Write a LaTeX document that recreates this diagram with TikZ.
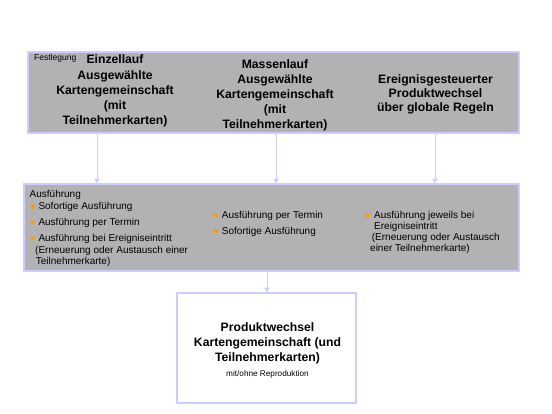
\documentclass[tikz,border=0pt]{standalone}
\usepackage{fontspec}
\setmainfont{Liberation Sans}
\usetikzlibrary{arrows.meta}
\definecolor{lav}{HTML}{CCCCFF}
\definecolor{boxgray}{HTML}{B2B2B2}
\definecolor{bul}{HTML}{FF9900}
\tikzset{
  boxg/.style={draw=lav, line width=1.5pt, fill=boxgray, inner sep=0pt},
  boxw/.style={draw=lav, line width=1.5pt, fill=white, inner sep=0pt},
  ttl/.style={font=\fontsize{12.2}{14}\bfseries\selectfont, anchor=base, inner sep=0pt},
  itm/.style={font=\fontsize{10}{11}\selectfont, anchor=base west, inner sep=0pt},
  small/.style={font=\fontsize{8.5}{9}\selectfont, inner sep=0pt},
  bdot/.style={circle, fill=bul, inner sep=0pt, minimum size=4.2pt},
  arr/.style={draw=lav, line width=1pt, -{Triangle[width=5.5pt,length=4.5pt]}}
}
\begin{document}
\begin{tikzpicture}[x=1pt,y=-1pt]
\useasboundingbox (0,0) rectangle (552,414);
% boxes
\node[boxg, minimum width=491pt, minimum height=81pt] (top) at (273.5,92.5) {};
\node[boxg, minimum width=495pt, minimum height=87pt] (mid) at (271.5,227.5) {};
\node[boxw, minimum width=179pt, minimum height=110pt] (bot) at (266.5,348) {};
% top texts
\node[small, anchor=base west] (fest) at (34,60.7) {Festlegung};
\node[ttl] (c1a) at (115,64) {Einzellauf};
\node[ttl] (c1b) at (115,79.25) {Ausgewählte};
\node[ttl] (c1c) at (115,94.5) {Kartengemeinschaft};
\node[ttl] (c1d) at (115,109.75) {(mit};
\node[ttl] (c1e) at (115,125) {Teilnehmerkarten)};
\node[ttl] (c2a) at (275,68.3) {Massenlauf};
\node[ttl] (c2b) at (275,83.3) {Ausgewählte};
\node[ttl] (c2c) at (275,98.3) {Kartengemeinschaft};
\node[ttl] (c2d) at (275,113.3) {(mit};
\node[ttl] (c2e) at (275,128.3) {Teilnehmerkarten)};
\node[ttl] (c3a) at (435.5,84) {Ereignisgesteuerter};
\node[ttl] (c3b) at (435.5,98) {Produktwechsel};
\node[ttl] (c3c) at (435.5,112) {über globale Regeln};
% middle texts
\node[itm] (ausf) at (29.5,197.3) {Ausführung};
\node[bdot] (d1) at (32.5,206.7) {};
\node[itm] (m1) at (38.3,210) {Sofortige Ausführung};
\node[bdot] (d2) at (32.5,222.4) {};
\node[itm] (m2) at (38.3,225.7) {Ausführung per Termin};
\node[bdot] (d3) at (32.5,238.4) {};
\node[itm] (m3) at (38.3,241.7) {Ausführung bei Ereigniseintritt};
\node[itm] (m3b) at (35,253.3) {(Erneuerung oder Austausch einer};
\node[itm] (m3c) at (35.7,264.3) {Teilnehmerkarte)};
\node[bdot] (d4) at (216,215.7) {};
\node[itm] (n1) at (221.7,219) {Ausführung per Termin};
\node[bdot] (d5) at (216,231) {};
\node[itm] (n2) at (221.7,234.3) {Sofortige Ausführung};
\node[bdot] (d6) at (367.3,215.7) {};
\node[itm] (o1) at (374,219) {Ausführung jeweils bei};
\node[itm] (o2) at (374,229.6) {Ereigniseintritt};
\node[itm] (o3) at (371.7,240.5) {(Erneuerung oder Austausch};
\node[itm] (o4) at (370,251.2) {einer Teilnehmerkarte)};
% bottom texts
\node[ttl] (b1) at (267.5,331.7) {Produktwechsel};
\node[ttl] (b2) at (267.5,347) {Kartengemeinschaft (und};
\node[ttl] (b3) at (267.5,361.9) {Teilnehmerkarten)};
\node[small, anchor=base, font=\fontsize{8.2}{9}\selectfont] (b4) at (267.5,376.7) {mit/ohne Reproduktion};
% arrows
\coordinate (x1) at (97,0);
\coordinate (x2) at (276,0);
\coordinate (x3) at (435,0);
\coordinate (x4) at (267,0);
\draw[arr] (top.south -| x1) -- (mid.north -| x1);
\draw[arr] (top.south -| x2) -- (mid.north -| x2);
\draw[arr] (top.south -| x3) -- (mid.north -| x3);
\draw[arr] (mid.south -| x4) -- (bot.north -| x4);
\end{tikzpicture}
\end{document}
